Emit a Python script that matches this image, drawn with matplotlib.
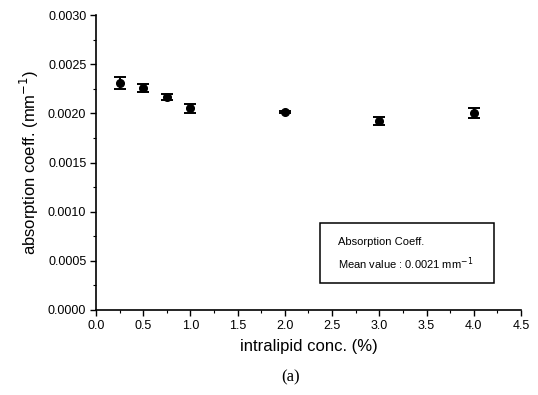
import numpy as np
import matplotlib
matplotlib.use("Agg")
import matplotlib.pyplot as plt
from matplotlib.patches import Rectangle
from matplotlib.ticker import MultipleLocator, FormatStrFormatter

plt.rcParams['font.family'] = ['Liberation Sans', 'DejaVu Sans']

# intralipid concentration (%) vs absorption coefficient (mm^-1)
conc = [0.25, 0.5, 0.75, 1.0, 2.0, 3.0, 4.0]
mua = [0.00231, 0.00226, 0.00217, 0.00205, 0.00201, 0.00192, 0.00200]
mua_err = [0.00006, 0.00004, 0.00003, 0.00005, 0.00001, 0.00004, 0.00005]

fig = plt.figure(figsize=(5.38, 3.95), dpi=100)
ax = fig.add_axes([0.1784, 0.2152, 0.79, 0.7468])

ax.errorbar(conc, mua, yerr=mua_err, fmt='o', color='black', ms=5.5,
            elinewidth=1.4, capsize=4.5, capthick=1.4)

ax.set_xlim(0, 4.5)
ax.set_ylim(0, 0.0030)
ax.xaxis.set_major_locator(MultipleLocator(0.5))
ax.xaxis.set_minor_locator(MultipleLocator(0.25))
ax.yaxis.set_major_locator(MultipleLocator(0.0005))
ax.yaxis.set_minor_locator(MultipleLocator(0.00025))
ax.xaxis.set_major_formatter(FormatStrFormatter('%.1f'))
ax.yaxis.set_major_formatter(FormatStrFormatter('%.4f'))
ax.tick_params(which='major', length=4, width=1, labelsize=9, pad=3)
ax.tick_params(which='minor', length=2.5, width=0.8)

ax.spines['top'].set_visible(False)
ax.spines['right'].set_visible(False)
ax.spines['left'].set_linewidth(1.2)
ax.spines['bottom'].set_linewidth(1.2)

ax.set_xlabel('intralipid conc. (%)', fontsize=12, labelpad=5)
ax.set_ylabel('absorption coeff. (mm$^{-1}$)', fontsize=12, labelpad=5)

# info box with the mean value
ax.add_patch(Rectangle((0.527, 0.0915), 0.409, 0.203, transform=ax.transAxes,
                       fc='white', ec='black', lw=1.1))
ax.text(0.569, 0.2305, 'Absorption Coeff.', transform=ax.transAxes,
        fontsize=8, va='center', ha='left')
ax.text(0.569, 0.156, 'Mean value : 0.0021 mm$^{-1}$', transform=ax.transAxes,
        fontsize=8, va='center', ha='left')

fig.text(0.54, 0.035, '(a)', fontsize=12, family='Liberation Serif', ha='center')

fig.savefig('out.png', dpi=100)
